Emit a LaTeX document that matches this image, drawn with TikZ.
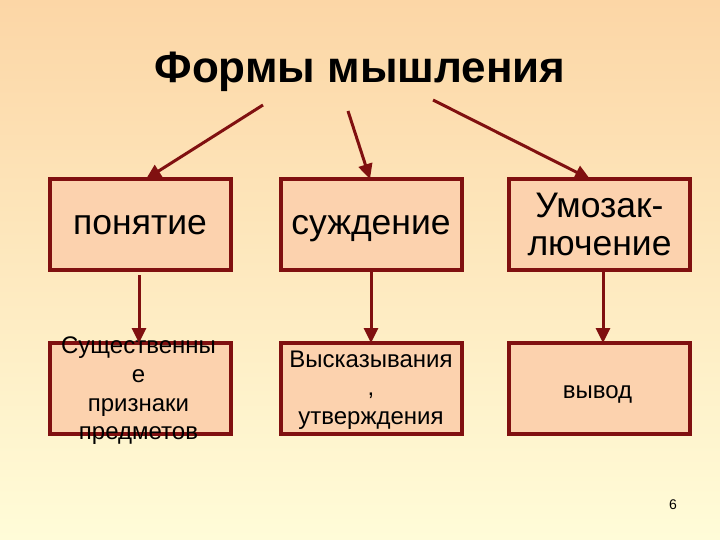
\documentclass[tikz,border=0pt]{standalone}
\usepackage{fontspec}
\setmainfont{Liberation Sans}
\usetikzlibrary{arrows.meta}
\definecolor{bgtop}{RGB}{252,214,166}
\definecolor{bgbot}{RGB}{255,252,216}
\definecolor{boxfill}{RGB}{252,210,174}
\definecolor{dred}{RGB}{128,16,16}
\tikzset{
  box/.style={draw=dred, line width=4pt, fill=boxfill, minimum width=181pt, minimum height=91pt, inner sep=0pt, align=center, text=black},
  bigtxt/.style={font=\fontsize{35.5}{38}\selectfont},
  smalltxt/.style={font=\fontsize{24}{28.7}\selectfont},
  conn/.style={draw=dred, line width=3pt, -{Triangle[length=15pt,width=14pt]}}
}
\begin{document}
\begin{tikzpicture}[x=1pt,y=-1pt]
\shade[top color=bgtop, bottom color=bgbot] (0,0) rectangle (720,540);
\useasboundingbox (0,0) rectangle (720,540);
\node[font=\fontsize{44}{48}\selectfont\bfseries, anchor=base] (title) at (360,83) {Формы мышления};
\node[box] (b1) at (140,224.5) {};
\node[box] (b2) at (371,224.5) {};
\node[box] (b3) at (599.5,224.5) {};
\node[box] (b4) at (140,388.5) {};
\node[box] (b5) at (371,388.5) {};
\node[box] (b6) at (599.5,388.5) {};
\node[bigtxt, anchor=base, inner sep=0pt] (t1) at (140,235) {понятие};
\node[bigtxt, anchor=base, inner sep=0pt] (t2) at (371,235) {суждение};
\node[bigtxt, align=center, inner sep=0pt] (t3) at (599.5,224) {Умозак-\\лючение};
\node[smalltxt, align=center, inner sep=0pt] (t4) at (138.5,391) {Существенны\\е\\признаки\\предметов};
\node[smalltxt, align=center, inner sep=0pt] (t5) at (371,390) {Высказывания\\,\\утверждения};
\node[smalltxt, anchor=base, inner sep=0pt] (t6) at (597.5,398) {вывод};
\coordinate (s1) at (263,105);
\coordinate (s2) at (348,111);
\coordinate (s3) at (433,100);
\coordinate (e1) at (146,179);
\coordinate (e2) at (370,179);
\coordinate (e3) at (590,179);
\draw[conn] (s1) -- (e1);
\draw[conn] (s2) -- (e2);
\draw[conn] (s3) -- (e3);
\draw[conn] (139,275) -- (139,343);
\draw[conn] (371,272) -- (371,343);
\draw[conn] (603,272) -- (603,343);
\node[font=\fontsize{14}{16}\selectfont] (pg) at (673,505) {6};
\end{tikzpicture}
\end{document}
